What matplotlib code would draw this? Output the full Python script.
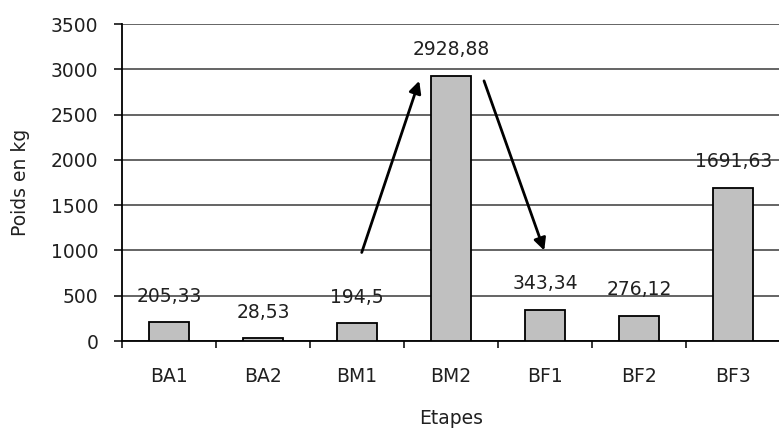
import matplotlib
matplotlib.use("Agg")
import matplotlib.pyplot as plt
import numpy as np

categories = ["BA1", "BA2", "BM1", "BM2", "BF1", "BF2", "BF3"]
values = [205.33, 28.53, 194.5, 2928.88, 343.34, 276.12, 1691.63]
labels = ["205,33", "28,53", "194,5", "2928,88", "343,34", "276,12", "1691,63"]
yticks = [0, 500, 1000, 1500, 2000, 2500, 3000, 3500]

plt.rcParams['font.family'] = ['DejaVu Sans']
FS = 13.5
TC = "#202020"

fig = plt.figure(figsize=(7.79, 4.32), dpi=100)
ax = fig.add_axes([0.1566, 0.2106, 0.845, 0.7334])

x = np.arange(len(categories))
ax.bar(x, values, width=0.42, color="#c0c0c0", edgecolor="black", linewidth=1.3, zorder=3)

for xi, v, lab in zip(x, values, labels):
    ax.annotate(lab, (xi, v), xytext=(0, 19), textcoords="offset points",
                ha="center", va="center", fontsize=FS, color=TC, zorder=4)

ax.set_xlim(-0.5, 6.5)
ax.set_ylim(0, 3500)
ax.set_yticks(yticks)
ax.set_yticklabels([str(t) for t in yticks], fontsize=FS, color=TC)
ax.yaxis.grid(True, color="#3a3a3a", linewidth=1.1, zorder=0)

ax.set_xticks(x)
ax.set_xticklabels(categories, fontsize=FS, color=TC)
ax.set_xticks(np.arange(-0.5, 6.6, 1.0), minor=True)
ax.tick_params(axis="x", which="major", length=0, pad=19)
ax.tick_params(axis="x", which="minor", length=5, width=1.1, direction="out")
ax.tick_params(axis="y", length=6, width=1.1, direction="out", pad=11)

for s in ["top", "right"]:
    ax.spines[s].set_visible(False)
ax.spines["left"].set_linewidth(1.3)
ax.spines["bottom"].set_linewidth(1.3)

ax.set_xlabel("Etapes", fontsize=FS, color=TC)
ax.set_ylabel("Poids en kg", fontsize=FS, color=TC)
ax.xaxis.set_label_coords(0.5, -0.2145)
ax.yaxis.set_label_coords(-0.14, 0.5)

ax.annotate("", xy=(2.67, 2903), xytext=(2.04, 949),
            arrowprops=dict(arrowstyle="-|>", color="black", lw=2, mutation_scale=18), zorder=5)
ax.annotate("", xy=(4.0, 971), xytext=(3.34, 2903),
            arrowprops=dict(arrowstyle="-|>", color="black", lw=2, mutation_scale=18), zorder=5)

fig.savefig("out.png", dpi=100)
